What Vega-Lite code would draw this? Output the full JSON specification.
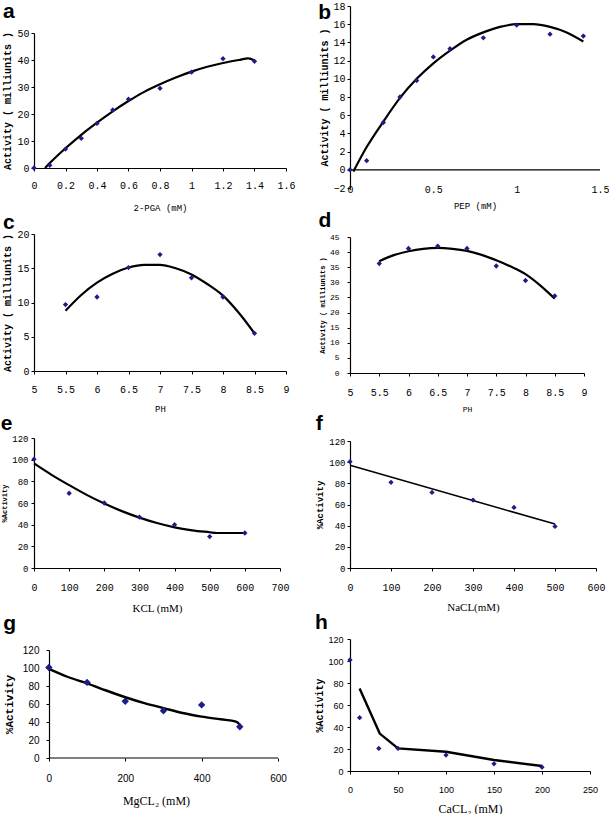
{
  "$schema": "https://vega.github.io/schema/vega-lite/v6.json",
  "background": "white",
  "padding": {"left": 0, "top": -19, "right": 0, "bottom": 0},
  "datasets": {
    "sp": [{}],
    "a_pts": [{"x":0,"y":0},{"x":0.1,"y":1},{"x":0.2,"y":7},{"x":0.3,"y":11},{"x":0.4,"y":16.5},{"x":0.5,"y":21.5},{"x":0.6,"y":25.5},{"x":0.8,"y":29.5},{"x":1.0,"y":35.5},{"x":1.2,"y":40.5},{"x":1.4,"y":39.5}],
    "a_fit": [{"x":0.07,"y":0},{"x":0.1,"y":1.8},{"x":0.2,"y":7.3},{"x":0.3,"y":12.3},{"x":0.4,"y":16.8},{"x":0.5,"y":21},{"x":0.6,"y":24.8},{"x":0.7,"y":28.2},{"x":0.8,"y":31},{"x":0.9,"y":33.5},{"x":1.0,"y":35.7},{"x":1.1,"y":37.5},{"x":1.2,"y":38.9},{"x":1.3,"y":40},{"x":1.36,"y":40.6},{"x":1.4,"y":39.8}],
    "b_pts": [{"x":0,"y":0},{"x":0.1,"y":1},{"x":0.2,"y":5.2},{"x":0.3,"y":8},{"x":0.4,"y":9.8},{"x":0.5,"y":12.4},{"x":0.6,"y":13.3},{"x":0.8,"y":14.5},{"x":1.0,"y":15.9},{"x":1.2,"y":14.9},{"x":1.4,"y":14.7}],
    "b_fit": [{"x":0.02,"y":-0.2},{"x":0.1,"y":2.5},{"x":0.2,"y":5.3},{"x":0.3,"y":7.9},{"x":0.4,"y":10.0},{"x":0.5,"y":11.7},{"x":0.6,"y":13.1},{"x":0.7,"y":14.3},{"x":0.8,"y":15.1},{"x":0.9,"y":15.7},{"x":1.0,"y":16.0},{"x":1.1,"y":16.0},{"x":1.2,"y":15.7},{"x":1.3,"y":15.1},{"x":1.4,"y":14.1}],
    "b_axis": [{"x":0,"y":0},{"x":1.5,"y":0}],
    "c_pts": [{"x":5.5,"y":9.7},{"x":6,"y":10.8},{"x":6.5,"y":15.1},{"x":7,"y":17},{"x":7.5,"y":13.6},{"x":8,"y":10.8},{"x":8.5,"y":5.5}],
    "c_fit": [{"x":5.5,"y":8.8},{"x":5.75,"y":11.1},{"x":6,"y":12.9},{"x":6.25,"y":14.2},{"x":6.5,"y":15.1},{"x":6.75,"y":15.5},{"x":7,"y":15.5},{"x":7.25,"y":15.0},{"x":7.5,"y":14.1},{"x":7.75,"y":12.7},{"x":8,"y":11.0},{"x":8.25,"y":8.5},{"x":8.5,"y":5.5}],
    "d_pts": [{"x":5.5,"y":36.2},{"x":6,"y":41.2},{"x":6.5,"y":42},{"x":7,"y":41.2},{"x":7.5,"y":35.4},{"x":8,"y":30.6},{"x":8.5,"y":25.5}],
    "d_fit": [{"x":5.5,"y":37},{"x":5.75,"y":39},{"x":6,"y":40.3},{"x":6.25,"y":41.1},{"x":6.5,"y":41.4},{"x":6.75,"y":41.1},{"x":7,"y":40.4},{"x":7.25,"y":39.1},{"x":7.5,"y":37.3},{"x":7.75,"y":35.2},{"x":8,"y":32.7},{"x":8.25,"y":29},{"x":8.5,"y":24.6}],
    "e_pts": [{"x":0,"y":100.5},{"x":100,"y":69},{"x":200,"y":60},{"x":300,"y":47},{"x":400,"y":40},{"x":500,"y":29},{"x":600,"y":32.3}],
    "e_fit": [{"x":0,"y":96.5},{"x":50,"y":86},{"x":100,"y":76.5},{"x":150,"y":67.5},{"x":200,"y":59.5},{"x":250,"y":52.5},{"x":300,"y":46.5},{"x":350,"y":41.5},{"x":400,"y":37.5},{"x":450,"y":34.8},{"x":500,"y":33},{"x":520,"y":32.3},{"x":600,"y":32.3}],
    "f_pts": [{"x":0,"y":100.5},{"x":100,"y":81},{"x":200,"y":71.4},{"x":300,"y":64.2},{"x":400,"y":57.2},{"x":500,"y":39.3}],
    "f_fit": [{"x":0,"y":97},{"x":500,"y":41.5}],
    "g_pts": [{"x":0,"y":100.5},{"x":100,"y":84},{"x":200,"y":63},{"x":300,"y":52.5},{"x":400,"y":59},{"x":500,"y":34.8}],
    "g_fit": [{"x":0,"y":99},{"x":50,"y":90},{"x":100,"y":83},{"x":150,"y":75},{"x":200,"y":67.5},{"x":250,"y":61},{"x":300,"y":55.5},{"x":350,"y":50},{"x":400,"y":46},{"x":450,"y":43},{"x":490,"y":40.5},{"x":500,"y":37}],
    "g_axis": [{"x":0,"y":0},{"x":600,"y":0}],
    "h_pts": [{"x":0,"y":101},{"x":10,"y":48.5},{"x":30,"y":20.5},{"x":50,"y":20.5},{"x":100,"y":14.5},{"x":150,"y":6.5},{"x":200,"y":3.5}],
    "h_fit": [{"x":10,"y":75},{"x":31,"y":34},{"x":50,"y":20.5},{"x":100,"y":17.5},{"x":150,"y":10},{"x":200,"y":4.5}]
  },
  "columns": 2,
  "align": "none",
  "spacing": 18,
  "concat": [
    {
      "columns": 1, "align": "none", "spacing": 0,
      "concat": [
        {"width": 0, "height": 0, "data": {"name": "sp"}, "mark": {"type": "point", "size": 0, "strokeWidth": 0, "opacity": 0}},
        {
          "width": 252, "height": 135,
          "title": {"text": "a", "anchor": "start", "frame": "bounds", "offset": 6},
          "encoding": {
            "x": {"field": "x", "type": "quantitative", "scale": {"domain": [0, 1.6], "nice": false},
                  "axis": {"title": "2-PGA (mM)", "values": [0,0.2,0.4,0.6,0.8,1,1.2,1.4,1.6], "format": "~g", "labelPadding": 9, "titlePadding": 13, "titleFontSize": 9, "titleFontWeight": "normal"}},
            "y": {"field": "y", "type": "quantitative", "scale": {"domain": [0, 50], "nice": false},
                  "axis": {"title": "Activity ( milliunits )", "values": [0,10,20,30,40,50], "titlePadding": 4}}
          },
          "layer": [
            {"data": {"name": "a_fit"}, "mark": {"type": "line", "color": "black", "strokeWidth": 2.2, "interpolate": "monotone"}},
            {"data": {"name": "a_pts"}, "mark": {"type": "point", "shape": "diamond", "filled": true, "color": "#1c1c8a", "opacity": 1, "size": 28}}
          ]
        },
        {
          "width": 252, "height": 137,
          "title": {"text": "c", "anchor": "start", "frame": "bounds", "offset": -4},
          "encoding": {
            "x": {"field": "x", "type": "quantitative", "scale": {"domain": [5, 9], "nice": false, "zero": false},
                  "axis": {"title": "PH", "values": [5,5.5,6,6.5,7,7.5,8,8.5,9], "format": "~g", "labelPadding": 10, "titlePadding": 10, "titleFontSize": 9, "titleFontWeight": "normal"}},
            "y": {"field": "y", "type": "quantitative", "scale": {"domain": [0, 20], "nice": false},
                  "axis": {"title": "Activity ( milliunits )", "values": [0,5,10,15,20], "titlePadding": 4}}
          },
          "layer": [
            {"data": {"name": "c_fit"}, "mark": {"type": "line", "color": "black", "strokeWidth": 2.2, "interpolate": "monotone"}},
            {"data": {"name": "c_pts"}, "mark": {"type": "point", "shape": "diamond", "filled": true, "color": "#1c1c8a", "opacity": 1, "size": 28}}
          ]
        },
        {
          "width": 246, "height": 130,
          "title": {"text": "e", "anchor": "start", "frame": "bounds", "offset": 0},
          "encoding": {
            "x": {"field": "x", "type": "quantitative", "scale": {"domain": [0, 700], "nice": false},
                  "axis": {"title": "KCL (mM)", "values": [0,100,200,300,400,500,600,700], "labelPadding": 11, "titlePadding": 10, "titleFont": "Liberation Serif", "titleFontSize": 11, "titleFontWeight": "normal"}},
            "y": {"field": "y", "type": "quantitative", "scale": {"domain": [0, 120], "nice": false},
                  "axis": {"title": "%Activity", "values": [0,20,40,60,80,100,120], "labelFontSize": 9, "labelPadding": 3, "titleFontSize": 7, "titlePadding": 4}}
          },
          "layer": [
            {"data": {"name": "e_fit"}, "mark": {"type": "line", "color": "black", "strokeWidth": 2.2, "interpolate": "monotone"}},
            {"data": {"name": "e_pts"}, "mark": {"type": "point", "shape": "diamond", "filled": true, "color": "#1c1c8a", "opacity": 1, "size": 28}}
          ]
        },
        {
          "width": 244, "height": 108,
          "title": {"text": "g", "anchor": "start", "frame": "bounds", "offset": 11},
          "encoding": {
            "x": {"field": "x", "type": "quantitative", "scale": {"domain": [-39, 600], "nice": false, "zero": false},
                  "axis": {"title": "MgCL₂ (mM)", "values": [0,200,400,600], "domain": false, "labelFont": "Liberation Sans", "labelPadding": 12, "titlePadding": 12, "titleFont": "Liberation Serif", "titleFontSize": 12, "titleFontWeight": "normal"}},
            "y": {"field": "y", "type": "quantitative", "scale": {"domain": [0, 120], "nice": false},
                  "axis": {"title": "%Activity", "values": [0,20,40,60,80,100,120], "offset": -15, "labelFont": "Liberation Sans", "labelPadding": 7, "titleFontSize": 11, "titlePadding": 8}}
          },
          "layer": [
            {"data": {"name": "g_axis"}, "mark": {"type": "line", "color": "black", "strokeWidth": 1.2}},
            {"data": {"name": "g_fit"}, "mark": {"type": "line", "color": "black", "strokeWidth": 2.4, "interpolate": "monotone"}},
            {"data": {"name": "g_pts"}, "mark": {"type": "point", "shape": "diamond", "filled": true, "color": "#1c1c8a", "opacity": 1, "size": 55}}
          ]
        }
      ]
    },
    {
      "columns": 1, "align": "none", "spacing": 0,
      "concat": [
        {"width": 0, "height": 0, "data": {"name": "sp"}, "mark": {"type": "point", "size": 0, "strokeWidth": 0, "opacity": 0}},
        {
          "width": 250, "height": 182,
          "title": {"text": "b", "orient": "left", "anchor": "end", "angle": 0, "align": "left", "baseline": "top", "offset": -11, "dy": 1},
          "encoding": {
            "x": {"field": "x", "type": "quantitative", "scale": {"domain": [0, 1.5], "nice": false},
                  "axis": {"title": "PEP (mM)", "values": [0,0.5,1,1.5], "format": "~g", "domain": false, "ticks": false, "labelPadding": -4, "titlePadding": 7, "titleFontSize": 9, "titleFontWeight": "normal"}},
            "y": {"field": "y", "type": "quantitative", "scale": {"domain": [-2, 18], "nice": false, "zero": false},
                  "axis": {"title": "Activity ( milliunits )", "values": [-2,0,2,4,6,8,10,12,14,16,18], "titlePadding": 3}}
          },
          "layer": [
            {"data": {"name": "b_axis"}, "mark": {"type": "line", "color": "black", "strokeWidth": 1.2}},
            {"data": {"name": "b_fit"}, "mark": {"type": "line", "color": "black", "strokeWidth": 2.2, "interpolate": "monotone"}},
            {"data": {"name": "b_pts"}, "mark": {"type": "point", "shape": "diamond", "filled": true, "color": "#1c1c8a", "opacity": 1, "size": 28}}
          ]
        },
        {
          "width": 234, "height": 136,
          "title": {"text": "d", "anchor": "start", "frame": "bounds", "offset": 2},
          "encoding": {
            "x": {"field": "x", "type": "quantitative", "scale": {"domain": [5, 9], "nice": false, "zero": false},
                  "axis": {"title": "PH", "values": [5,5.5,6,6.5,7,7.5,8,8.5,9], "format": "~g", "labelPadding": 11, "titlePadding": 8, "titleFontSize": 8, "titleFontWeight": "normal"}},
            "y": {"field": "y", "type": "quantitative", "scale": {"domain": [0, 45], "nice": false},
                  "axis": {"title": "Activity ( milliunits )", "values": [0,5,10,15,20,25,30,35,40,45], "labelFontSize": 8, "labelPadding": 8, "titleFontSize": 7, "titlePadding": 4}}
          },
          "layer": [
            {"data": {"name": "d_fit"}, "mark": {"type": "line", "color": "black", "strokeWidth": 2.2, "interpolate": "monotone"}},
            {"data": {"name": "d_pts"}, "mark": {"type": "point", "shape": "diamond", "filled": true, "color": "#1c1c8a", "opacity": 1, "size": 28}}
          ]
        },
        {
          "width": 246, "height": 127,
          "title": {"text": "f", "anchor": "start", "frame": "bounds", "offset": 3},
          "encoding": {
            "x": {"field": "x", "type": "quantitative", "scale": {"domain": [0, 600], "nice": false},
                  "axis": {"title": "NaCL(mM)", "values": [0,100,200,300,400,500,600], "labelPadding": 11, "titlePadding": 9, "titleFont": "Liberation Serif", "titleFontSize": 11, "titleFontWeight": "normal"}},
            "y": {"field": "y", "type": "quantitative", "scale": {"domain": [0, 120], "nice": false},
                  "axis": {"title": "%Activity", "values": [0,20,40,60,80,100,120], "labelFontSize": 9, "labelPadding": 2, "titleFontSize": 9, "titlePadding": 4}}
          },
          "layer": [
            {"data": {"name": "f_fit"}, "mark": {"type": "line", "color": "black", "strokeWidth": 1.5}},
            {"data": {"name": "f_pts"}, "mark": {"type": "point", "shape": "diamond", "filled": true, "color": "#1c1c8a", "opacity": 1, "size": 28}}
          ]
        },
        {
          "width": 240, "height": 132,
          "title": {"text": "h", "anchor": "start", "frame": "bounds", "offset": 2},
          "encoding": {
            "x": {"field": "x", "type": "quantitative", "scale": {"domain": [0, 250], "nice": false},
                  "axis": {"title": "CaCL₂ (mM)", "values": [0,50,100,150,200,250], "labelFont": "Liberation Sans", "labelFontSize": 9, "labelPadding": 11, "titlePadding": 9, "titleFont": "Liberation Serif", "titleFontSize": 12, "titleFontWeight": "normal"}},
            "y": {"field": "y", "type": "quantitative", "scale": {"domain": [0, 120], "nice": false},
                  "axis": {"title": "%Activity", "values": [0,20,40,60,80,100,120], "labelFont": "Liberation Sans", "labelFontSize": 9, "labelPadding": 4, "titleFontSize": 10, "titlePadding": 3}}
          },
          "layer": [
            {"data": {"name": "h_fit"}, "mark": {"type": "line", "color": "black", "strokeWidth": 2.4}},
            {"data": {"name": "h_pts"}, "mark": {"type": "point", "shape": "diamond", "filled": true, "color": "#1c1c8a", "opacity": 1, "size": 28}}
          ]
        }
      ]
    }
  ],
  "config": {
    "view": {"stroke": null},
    "title": {"font": "Liberation Sans", "fontSize": 21, "fontWeight": "bold", "color": "black"},
    "axis": {
      "grid": false, "domainColor": "black", "tickColor": "black", "labelColor": "black", "titleColor": "black",
      "labelFont": "Liberation Mono", "labelFontSize": 10, "titleFont": "Liberation Mono", "titleFontSize": 10,
      "titleFontWeight": "bold", "tickSize": 3, "labelPadding": 2, "domainWidth": 1.2, "tickWidth": 1,
      "labelOverlap": false
    },
    "axisX": {"labelFlush": false}
  }
}
